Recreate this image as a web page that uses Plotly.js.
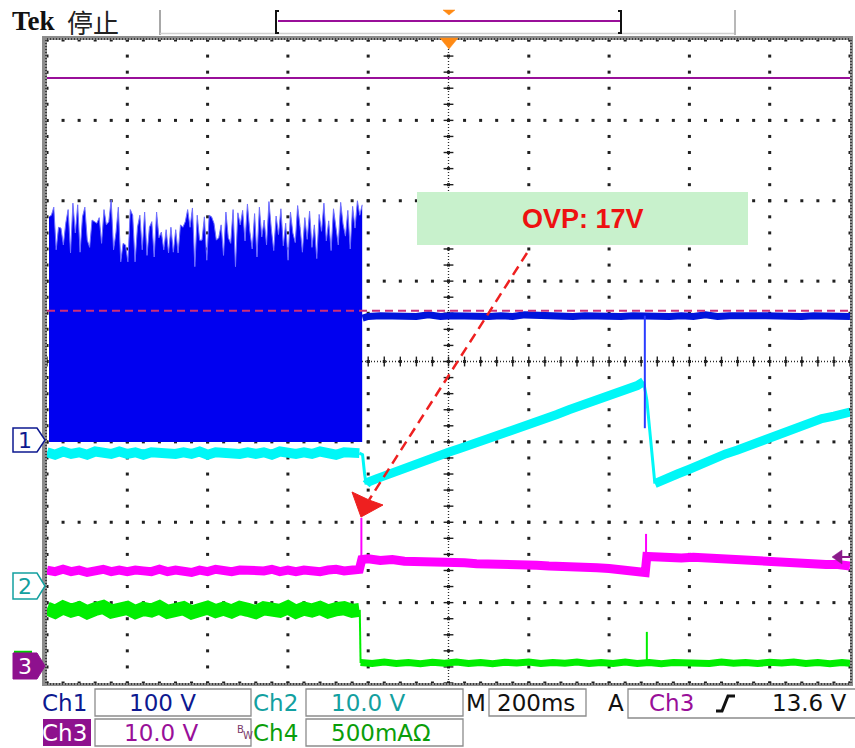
<!DOCTYPE html>
<html><head><meta charset="utf-8">
<script src="https://cdn.plot.ly/plotly-3.0.1.min.js"></script>
<style>html,body{margin:0;padding:0;background:#fff;}#chart{width:855px;height:748px;}</style>
</head><body><div id="chart"></div>
<script>
// ---------- channel settings (scale per division, ground position in divisions) ----------
const ch1Scale = 100, ch1Pos = -1.0;    // V/div
const ch2Scale = 10,  ch2Pos = -2.78;   // V/div
const ch3Scale = 10,  ch3Pos = -3.775;  // V/div
const ch4Scale = 500, ch4Pos = -3.75;   // mA/div

// ---------- time base (ms) ----------
const tPre = [-1000,-980,-960,-940,-920,-900,-880,-860,-840,-820,-800,-780,-760,-740,-720,-700,-680,-660,-640,-620,
              -600,-580,-560,-540,-520,-500,-480,-460,-440,-420,-400,-380,-360,-340,-320,-300,-280,-260,-240,-222];

// ---------- Ch1 (V): switching burst envelope, then flat ----------
const ch1BurstStart = -995, ch1BurstEnd = -215;
const ch1Envelope = [280,282,292,239,267,266,245,272,289,235,297,260,295,236,280,292,251,242,276,274,
  272,279,247,289,270,274,301,239,260,292,224,247,245,224,289,282,224,267,282,239,
  286,232,267,274,230,286,254,261,239,264,235,267,236,264,235,270,267,274,289,267,
  291,218,282,251,251,280,226,282,280,272,251,254,270,232,286,254,247,289,218,285,
  270,288,250,296,262,240,284,230,292,255,276,245,299,265,238,281,258,290,244,272,
  226,286,260,248,294,268,236,279,252,287,242,270,228,283,262,297,250,275,238,290,
  264,245,298,271,256,288,240,293,266,300,282,295];
const ch1PostT = [-214,-200,-170,-140,-110,-80,-50,-20,10,40,70,100,130,160,190,220,250,280,310,340,370,400,430,460,490,
  520,550,580,610,640,670,700,730,760,790,820,850,880,910,940,970,1000];
const ch1PostV = [154,156,157,156,157,156,158,156,157,156,157,156,157,156,158,157,156,157,156,157,156,157,156,157,156,
  157,156,157,156,158,156,157,156,157,157,156,157,156,157,156,157,156];
const ch1SpikeT = [489,489], ch1SpikeV = [157,17];
const ch1RefLevel = 163;

// ---------- Ch2 (V) ----------
const ch2Pre = [16.5,16.2,16.6,16.3,16.5,16.2,16.6,16.4,16.3,16.6,16.3,16.5,16.2,16.5,16.4,16.6,16.3,16.5,16.3,16.6,
  16.2,16.5,16.4,16.6,16.3,16.5,16.3,16.5,16.2,16.6,16.4,16.3,16.5,16.3,16.6,16.4,16.2,16.5,16.5,16.4];
const ch2Edge1T = [-222,-214,-209,-205], ch2Edge1V = [16.4,16.2,13.8,12.5];
const ch2Ramp1T = [-205,-200,-180,-150,-120,-90,-60,-30,0,30,60,90,120,150,180,210,240,270,300,330,360,390,420,450,470,486];
const ch2Ramp1V = [12.5,12.8,13.2,13.8,14.3,14.9,15.4,15.9,16.5,17.0,17.5,18.1,18.6,19.1,19.6,20.2,20.7,21.2,21.8,22.3,22.8,23.3,23.9,24.4,24.8,25.3];
const ch2Edge2T = [486,489,494,514], ch2Edge2V = [25.3,24.5,23.0,12.6];
const ch2Ramp2T = [514,540,570,600,630,660,690,720,750,780,810,840,870,900,930,960,1000];
const ch2Ramp2V = [12.6,13.3,13.8,14.4,15.1,15.7,16.3,16.8,17.4,17.9,18.5,19.1,19.6,20.2,20.7,21.0,21.5];

// ---------- Ch3 (V) ----------
const ch3Pre = [11.8,11.6,11.9,11.6,11.8,11.5,11.7,11.9,11.6,11.8,11.6,11.8,11.7,11.6,11.9,11.6,11.8,11.7,11.5,11.8,
  11.6,11.9,11.7,11.6,11.8,11.8,11.6,11.7,11.9,11.6,11.8,11.6,11.8,11.7,11.6,11.8,11.9,11.7,11.8,11.9];
const ch3PostT = [-216,-200,-170,-140,-110,-80,-50,-20,10,40,70,100,130,160,190,220,250,280,310,340,370,400,430,460,480,490,
  494,520,550,580,610,640,670,700,730,760,790,820,850,880,910,940,970,1000];
const ch3PostV = [13.1,13.2,13.0,13.1,12.9,12.9,12.8,12.8,12.7,12.7,12.6,12.6,12.5,12.5,12.4,12.4,12.3,12.3,12.2,12.2,12.1,12.0,11.9,11.8,11.6,11.5,
  13.5,13.4,13.5,13.3,13.4,13.3,13.3,13.2,13.1,13.0,12.9,12.9,12.8,12.7,12.6,12.5,12.5,12.3];
const ch3Spike1T = [-217,-217], ch3Spike1V = [11.9,18.3];
const ch3Spike2T = [492,492], ch3Spike2V = [11.6,16.3];

// ---------- Ch4 (mA) ----------
const ch4Pre = [338,318,345,325,340,315,335,348,320,332,342,316,336,326,346,318,334,340,314,330,
  344,322,338,320,342,330,316,340,334,324,346,318,338,326,342,320,334,340,324,330];
const ch4EdgeT = [-221,-219], ch4EdgeV = [330,0];
const ch4PostT = [-219,-190,-160,-130,-100,-70,-40,-10,20,50,80,110,140,170,200,230,260,290,320,350,380,410,440,470,500,
  530,560,590,620,650,680,710,740,770,800,830,860,890,920,950,980,1000];
const ch4PostV = [3,-4,5,-3,2,-5,4,-2,6,-3,2,-5,4,-1,5,-4,3,-2,5,-4,2,-3,6,-3,3,-5,2,-2,4,-4,5,-2,3,-4,4,-1,5,-3,2,-5,3,-2];
const ch4SpikeT = [494,494], ch4SpikeV = [0,193];

// ---------- labels ----------
const infoRow1 = {ch1: "100 V", ch2: "10.0 V", time: "200ms", trigSrc: "Ch3", trigLevel: "13.6 V"};
const infoRow2 = {ch3: "10.0 V", ch4: "500mA\u03a9"};
const noteText = "OVP: 17V";

// ---------- helpers ----------
const L = 47, R = 850, TOP = 40, BOT = 683;
const X = px => (px - L) / (R - L);
const Y = py => (BOT - py) / (BOT - TOP);
const rng = (s, p) => [(-4 - p) * s, (4 - p) * s];

const C1 = '#0d1990', C2 = '#13a0a0', C3 = '#990f99', C4 = '#0a9e0a';

// grid dots (styling)
const gx = [], gy = [];
for (let xd = 0; xd <= 10; xd++) for (let j = 0; j <= 40; j++) { gx.push(-1000 + xd * 200); gy.push(-4 + j * 0.2); }
for (let yd = 0; yd <= 8; yd++) for (let i = 0; i <= 50; i++) { gx.push(-1000 + i * 40); gy.push(-4 + yd); }
const hx = [], hy = [], vx = [], vy = [];
for (let i = 0; i <= 50; i++) { hx.push(-1000 + i * 40); hy.push(0); }
for (let j = 0; j <= 40; j++) { vx.push(0); vy.push(-4 + j * 0.2); }

const envT = ch1Envelope.map((v, i) => ch1BurstStart + i * (ch1BurstEnd - ch1BurstStart) / (ch1Envelope.length - 1));

const CY = '#00f7f7', MG = '#ff00ff', GR = '#00ee00';
const traces = [
  {x: gx, y: gy, yaxis: 'y', mode: 'markers', marker: {symbol: 'square', size: 3, color: '#202020'}},
  {x: hx, y: hy, yaxis: 'y', mode: 'markers', marker: {symbol: 'line-ns', size: 7, line: {width: 1.4, color: '#202020'}}},
  {x: vx, y: vy, yaxis: 'y', mode: 'markers', marker: {symbol: 'line-ew', size: 7, line: {width: 1.4, color: '#202020'}}},
  // Ch2 cyan
  {x: tPre, y: ch2Pre, yaxis: 'y2', mode: 'lines', line: {color: CY, width: 10}},
  {x: ch2Edge1T, y: ch2Edge1V, yaxis: 'y2', mode: 'lines', line: {color: CY, width: 3}},
  {x: ch2Ramp1T, y: ch2Ramp1V, yaxis: 'y2', mode: 'lines', line: {color: CY, width: 9}},
  {x: ch2Edge2T, y: ch2Edge2V, yaxis: 'y2', mode: 'lines', line: {color: CY, width: 3}},
  {x: ch2Ramp2T, y: ch2Ramp2V, yaxis: 'y2', mode: 'lines', line: {color: CY, width: 9}},
  // Ch3 magenta
  {x: tPre.concat(ch3PostT), y: ch3Pre.concat(ch3PostV), yaxis: 'y3', mode: 'lines', line: {color: MG, width: 9}},
  {x: ch3Spike1T, y: ch3Spike1V, yaxis: 'y3', mode: 'lines', line: {color: MG, width: 2}},
  {x: ch3Spike2T, y: ch3Spike2V, yaxis: 'y3', mode: 'lines', line: {color: MG, width: 2}},
  // Ch4 green
  {x: tPre, y: ch4Pre, yaxis: 'y4', mode: 'lines', line: {color: GR, width: 14}},
  {x: ch4EdgeT, y: ch4EdgeV, yaxis: 'y4', mode: 'lines', line: {color: GR, width: 2}},
  {x: ch4PostT, y: ch4PostV, yaxis: 'y4', mode: 'lines', line: {color: GR, width: 7}},
  {x: ch4SpikeT, y: ch4SpikeV, yaxis: 'y4', mode: 'lines', line: {color: GR, width: 2}},
  // Ch1 blue
  {x: envT, y: ch1Envelope, yaxis: 'y5', mode: 'lines', fill: 'tozeroy', fillcolor: '#0000f0', line: {color: '#6f6fff', width: 1}},
  {x: ch1PostT, y: ch1PostV, yaxis: 'y5', mode: 'lines', line: {color: '#0014dc', width: 7}},
  {x: ch1SpikeT, y: ch1SpikeV, yaxis: 'y5', mode: 'lines', line: {color: '#2a3cff', width: 2}},
  {x: [-1000, 1000], y: [ch1RefLevel, ch1RefLevel], yaxis: 'y5', mode: 'lines', line: {color: '#cc2f78', width: 2, dash: '8px,5px'}}
];
traces.forEach(t => { t.hoverinfo = 'skip'; t.showlegend = false; });

const paperLine = (x0, y0, x1, y1, color, width, dash, layer) => ({type: 'line', xref: 'paper', yref: 'paper',
  x0: X(x0), y0: Y(y0), x1: X(x1), y1: Y(y1), line: {color, width, dash: dash || 'solid'}, layer: layer || 'above'});
const paperRect = (x0, y0, x1, y1, fill, lineColor, lw) => ({type: 'rect', xref: 'paper', yref: 'paper',
  x0: X(x0), y0: Y(y0), x1: X(x1), y1: Y(y1), fillcolor: fill || 'rgba(0,0,0,0)', line: {color: lineColor || 'rgba(0,0,0,0)', width: lw || 0}});
const paperPath = (pts, fill, lineColor, lw, close) => ({type: 'path', xref: 'paper', yref: 'paper',
  path: pts.map((p, i) => (i ? 'L' : 'M') + X(p[0]).toFixed(5) + ',' + Y(p[1]).toFixed(5)).join(' ') + (close === false ? '' : ' Z'),
  fillcolor: fill || 'rgba(0,0,0,0)', line: {color: lineColor || 'rgba(0,0,0,0)', width: lw || 0}});

const shapes = [
  paperLine(L, 361.5, R, 361.5, '#2a2a2a', 1.3, '1px,2px', 'below'),
  paperLine(448.5, TOP, 448.5, BOT, '#2a2a2a', 1.3, '1px,2px', 'below'),
  paperLine(L, 78, R, 78, '#990f99', 2),
  paperRect(42, 36, 47, 685, '#8d8d8d'),
  paperRect(42, 36, 853, 40, '#8d8d8d'),
  paperRect(850, 36, 853, 685, '#8d8d8d'),
  paperRect(42, 683, 853, 686, '#8d8d8d'),
  paperLine(47, 39, 850, 39, '#222', 1.5, '1px,2px'),
  paperLine(46, 40, 46, 683, '#222', 1.5, '1px,2px'),
  paperLine(47, 684, 850, 684, '#222', 1.5, '1px,2px'),
  paperLine(851, 40, 851, 683, '#222', 1.5, '1px,2px'),
  paperLine(160, 10, 160, 35, '#a8a8a8', 2),
  paperLine(160, 33.5, 735, 33.5, '#d0d0d0', 1.5),
  paperLine(735, 10, 735, 35, '#b8b8b8', 2),
  paperPath([[279, 11], [276, 11], [276, 33], [279, 33]], null, '#111', 2, false),
  paperLine(278, 21, 620, 21, '#990f99', 2),
  paperPath([[618, 11], [621, 11], [621, 33], [618, 33]], null, '#111', 2, false),
  paperPath([[443, 10], [455, 10], [449, 15]], '#ff8a14', '#ff8a14', 0.5),
  paperPath([[440, 38], [458, 38], [449, 49]], '#ff8a14', '#ff8a14', 0.5),
  paperPath([[832, 557], [842, 550], [842, 564]], '#8a1a8a', '#8a1a8a', 0.5),
  paperLine(842, 557, 850, 557, '#8a1a8a', 2),
  paperPath([[13, 428], [37, 428], [45, 440], [37, 452], [13, 452]], '#ffffff', C1, 1.5),
  paperPath([[13, 573], [37, 573], [45, 586], [37, 599], [13, 599]], '#ffffff', C2, 1.5),
  paperLine(14, 652, 32, 652, '#00cc00', 2.5),
  paperPath([[13, 653], [37, 653], [45, 666], [37, 679], [13, 679]], '#8e118e', '#8e118e', 1),
  paperRect(417, 192, 748, 245, '#c8f1cc'),
  paperLine(527, 253, 369, 500, '#ee2020', 2.5, '10px,6px'),
  paperPath([[361, 517], [352, 492], [369, 500], [383, 505]], '#ee2020', '#ee2020', 1),
  paperRect(95, 689, 251, 716, null, '#8c8c8c', 1.3),
  paperRect(306, 689, 463, 716, null, '#8c8c8c', 1.3),
  paperRect(489, 689, 586, 716, null, '#8c8c8c', 1.3),
  paperRect(628, 689, 858, 718, null, '#8c8c8c', 1.3),
  paperRect(43, 719, 91, 746, '#8e118e'),
  paperRect(95, 719, 251, 746, null, '#8c8c8c', 1.3),
  paperRect(306, 719, 463, 746, null, '#8c8c8c', 1.3),
  paperPath([[716, 711], [722, 711], [728, 696], [735, 696]], null, '#111', 3, false)
];

const T = (text, px, py, color, size, family, anchor) => ({xref: 'paper', yref: 'paper', x: X(px), y: Y(py), text,
  showarrow: false, xanchor: anchor || 'left', yanchor: 'middle', borderpad: 0,
  font: {family: family || 'DejaVu Sans', size: size || 23, color}});
const SF = 'DejaVu Sans';
const annotations = [
  T('<b>Tek</b>', 11, 21, '#111', 27, 'Liberation Serif'),
  T('停止', 66, 21, '#222', 26, 'Noto Sans CJK SC'),
  T('Ch1', 41, 703, C1), T(infoRow1.ch1, 128, 703, C1),
  T('Ch2', 252, 703, C2), T(infoRow1.ch2, 330, 703, C2),
  T('M', 465, 703, '#111'), T(infoRow1.time, 496, 703, '#111'),
  T('A', 607, 703, '#111'), T(infoRow1.trigSrc, 648, 703, C3), T(infoRow1.trigLevel, 771, 703, '#111'),
  T('Ch3', 41, 733, '#ffffff'), T(infoRow2.ch3, 123, 733, C3),
  T('B', 236, 729, '#7a3a6a', 10), T('W', 242, 735, '#7a3a6a', 10),
  T('Ch4', 252, 733, C4), T(infoRow2.ch4, 330, 733, C4),
  T('1', 25, 440, C1, 22, SF, 'center'),
  T('2', 25, 586, C2, 22, SF, 'center'),
  T('3', 25, 666, '#ffffff', 22, SF, 'center'),
  T('<b>' + noteText + '</b>', 583, 219, '#ee1111', 27, 'Liberation Sans', 'center')
];

const ax = r => ({range: r, visible: false, fixedrange: true, showgrid: false, zeroline: false});
const layout = {
  width: 855, height: 748, margin: {l: L, r: 855 - R, t: TOP, b: 748 - BOT, pad: 0},
  paper_bgcolor: '#ffffff', plot_bgcolor: '#ffffff', showlegend: false,
  xaxis: {range: [-1000, 1000], visible: false, fixedrange: true},
  yaxis: ax([-4, 4]),
  yaxis2: Object.assign(ax(rng(ch2Scale, ch2Pos)), {overlaying: 'y'}),
  yaxis3: Object.assign(ax(rng(ch3Scale, ch3Pos)), {overlaying: 'y'}),
  yaxis4: Object.assign(ax(rng(ch4Scale, ch4Pos)), {overlaying: 'y'}),
  yaxis5: Object.assign(ax(rng(ch1Scale, ch1Pos)), {overlaying: 'y'}),
  shapes, annotations
};
Plotly.newPlot('chart', traces, layout, {displayModeBar: false, staticPlot: true});
</script></body></html>
